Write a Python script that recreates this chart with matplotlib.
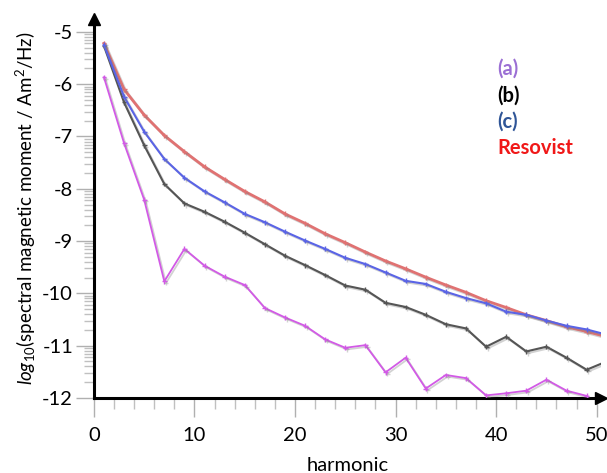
import matplotlib.pyplot as plt
import matplotlib.patheffects as pe
import numpy as np

plt.rcParams['font.family'] = ['Lato', 'DejaVu Sans']
plt.rcParams['mathtext.fontset'] = 'custom'
plt.rcParams['mathtext.rm'] = 'Lato'
plt.rcParams['mathtext.it'] = 'Lato:italic'

# odd harmonics
harm = [1, 3, 5, 7, 9, 11, 13, 15, 17, 19, 21, 23, 25, 27, 29, 31, 33, 35, 37, 39, 41, 43, 45, 47, 49, 51]
harm_a = harm[:-1]

resovist = [-5.22, -6.10, -6.59, -6.98, -7.29, -7.58, -7.82, -8.05, -8.25, -8.48, -8.66, -8.86, -9.03,
            -9.21, -9.38, -9.53, -9.69, -9.84, -9.98, -10.14, -10.27, -10.41, -10.52, -10.64, -10.73, -10.83]
series_c = [-5.25, -6.24, -6.91, -7.43, -7.79, -8.05, -8.26, -8.48, -8.64, -8.82, -8.99, -9.15, -9.32,
            -9.44, -9.60, -9.76, -9.82, -9.97, -10.09, -10.19, -10.35, -10.41, -10.52, -10.62, -10.69, -10.79]
series_b = [-5.27, -6.35, -7.17, -7.91, -8.28, -8.44, -8.63, -8.84, -9.06, -9.28, -9.46, -9.65, -9.85,
            -9.93, -10.18, -10.26, -10.41, -10.59, -10.67, -11.02, -10.83, -11.11, -11.02, -11.23, -11.46, -11.30]
series_a = [-5.87, -7.13, -8.21, -9.77, -9.15, -9.47, -9.68, -9.84, -10.28, -10.46, -10.62, -10.88, -11.04,
            -10.99, -11.51, -11.23, -11.82, -11.56, -11.62, -11.95, -11.91, -11.86, -11.65, -11.86, -11.96]

labels = ['(a)', '(b)', '(c)', 'Resovist']
label_colors = ['#9b6fd4', '#000000', '#2f5597', '#f01818']

fig = plt.figure(figsize=(6.07, 4.73), dpi=100)
ax = fig.add_axes([0.1547, 0.1586, 0.835, 0.8017])

shadow = [pe.SimpleLineShadow(offset=(1.2, -1.2), shadow_color='gray', alpha=0.35), pe.Normal()]

ax.plot(harm, resovist, color='#e07272', lw=2.0, marker='+', ms=3.5, mew=1, path_effects=shadow, zorder=3)
ax.plot(harm, series_c, color='#5a64e6', lw=1.5, marker='+', ms=3.5, mew=1, path_effects=shadow, zorder=4)
ax.plot(harm, series_b, color='#555555', lw=1.5, marker='+', ms=3.5, mew=1, path_effects=shadow, zorder=3)
ax.plot(harm_a, series_a, color='#d25ae6', lw=1.3, marker='+', ms=3.5, mew=1, path_effects=shadow, zorder=3)

ax.set_xlim(0, 50.4)
ax.set_ylim(-12, -4.75)

# axes with arrow heads
for s in ['top', 'right']:
    ax.spines[s].set_visible(False)
for s in ['left', 'bottom']:
    ax.spines[s].set_linewidth(2.2)
    ax.spines[s].set_color('black')
ax.plot([0], [1], marker='^', color='black', ms=9, transform=ax.transAxes, clip_on=False)
ax.plot([1], [0], marker='>', color='black', ms=9, transform=ax.transAxes, clip_on=False)

ax.set_xticks(np.arange(0, 51, 10))
ax.set_xticks(np.arange(0, 51, 2), minor=True)
ax.set_yticks(np.arange(-12, -4, 1))
ax.set_yticklabels([str(v) for v in range(-12, -4)])
minor_y = [d + np.log10(k / 10) for d in range(-5, -12, -1) for k in range(2, 10)]
ax.set_yticks(minor_y, minor=True)

ax.tick_params(axis='x', which='major', length=14, width=1, color='#b0b0b0', labelsize=14.5, pad=7)
ax.tick_params(axis='x', which='minor', length=8, width=1, color='#c0c0c0')
ax.tick_params(axis='y', which='major', length=13, width=1, color='#b0b0b0', labelsize=14.5, pad=2)
ax.tick_params(axis='y', which='minor', length=7, width=1, color='#c0c0c0')

ax.set_xlabel('harmonic', fontsize=14.5, labelpad=9)
ax.set_ylabel(r'$\mathit{log}_{10}$(spectral magnetic moment / Am$^2$/Hz)', fontsize=13.5, labelpad=3)

for i, (lab, col) in enumerate(zip(labels, label_colors)):
    fig.text(497 / 607, 1 - (69 + 26.3 * i) / 473, lab, color=col, fontsize=14.5,
             fontweight='bold', va='center', ha='left')

fig.savefig('out.png', dpi=100)
